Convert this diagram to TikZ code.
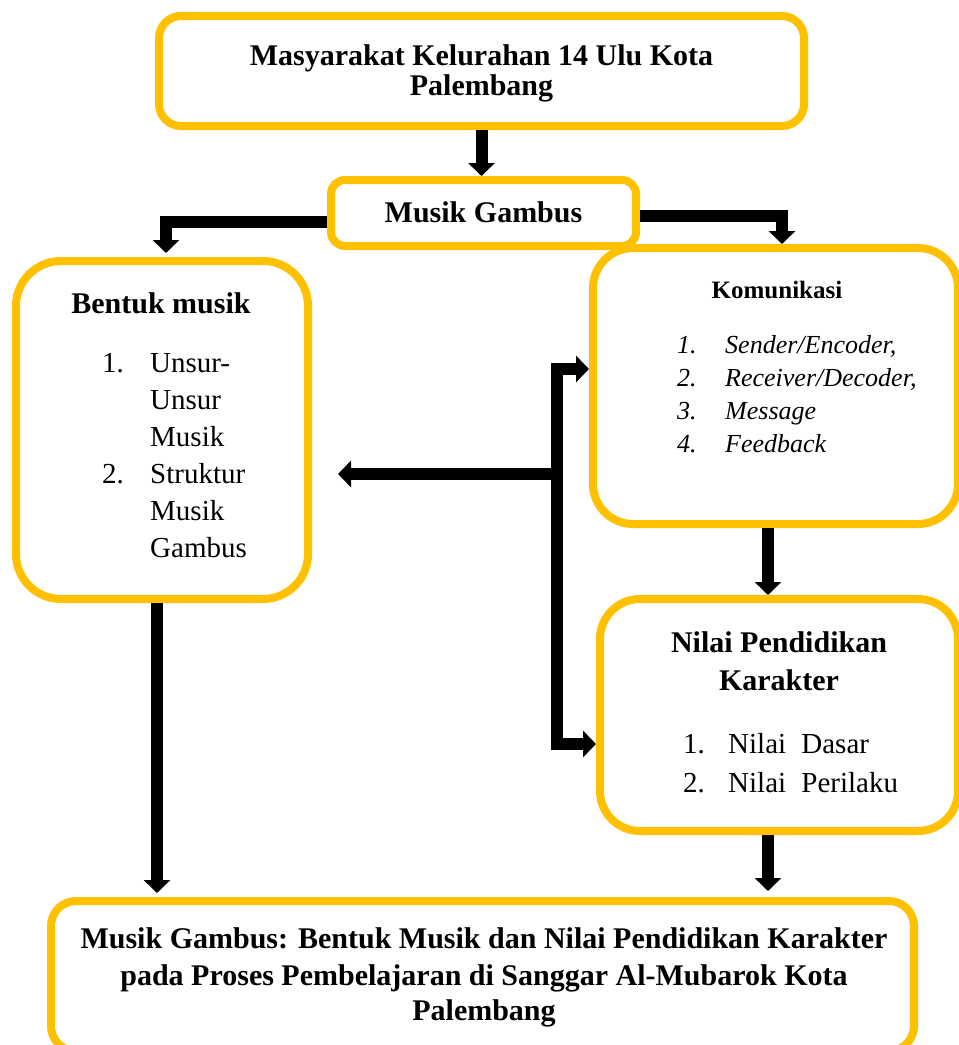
\documentclass[tikz,border=0pt]{standalone}
\usepackage{fontspec}
\setmainfont{Liberation Serif}
\usetikzlibrary{arrows.meta}
\definecolor{gold}{HTML}{FFC000}
\begin{document}
\begin{tikzpicture}[x=1pt,y=-1pt,
  >={Triangle[width=26pt,length=13pt]},
  box/.style={draw=gold, line width=8pt, rounded corners=#1, fill=white, inner sep=0pt},
  box/.default=25pt,
  conn/.style={draw=black, line width=12pt, line join=miter, ->},
  bt/.style={font=\fontsize{30}{33}\selectfont\bfseries, inner sep=0pt, anchor=base},
  kt/.style={font=\fontsize{25}{30}\selectfont\bfseries, inner sep=0pt, anchor=base},
  rt/.style={font=\fontsize{29}{34}\selectfont, inner sep=0pt, anchor=base west},
  it/.style={font=\fontsize{26}{30}\selectfont\itshape, inner sep=0pt, anchor=base west}
]
\useasboundingbox (0,0) rectangle (959,1045);

% boxes
\node[box=22pt, minimum width=645pt, minimum height=110pt] (top) at (481.5,71) {};
\node[box=14pt, minimum width=305pt, minimum height=66pt] (gambus) at (483.5,213) {};
\node[box=45pt, minimum width=292pt, minimum height=338pt] (bentuk) at (162,430) {};
\node[box=40pt, minimum width=365pt, minimum height=276pt] (kom) at (775.5,386) {};
\node[box=40pt, minimum width=358pt, minimum height=232pt] (nilai) at (779,715) {};
\node[box=25pt, minimum width=863pt, minimum height=150pt] (bottom) at (482.5,976) {};

% texts
\node[bt] (t1) at (481.5,65) {Masyarakat Kelurahan 14 Ulu Kota};
\node[bt] (t2) at (481.5,95) {Palembang};
\node[bt] (g1) at (483.5,222) {Musik Gambus};

\node[bt] (b0) at (161,313) {Bentuk musik};
\node[rt] (bn1) at (102,372) {1.};
\node[rt] (bn2) at (102,483) {2.};
\node[rt] (b1) at (150,372) {Unsur-};
\node[rt] (b2) at (150,409) {Unsur};
\node[rt] (b3) at (150,446) {Musik};
\node[rt] (b4) at (150,483) {Struktur};
\node[rt] (b5) at (150,520) {Musik};
\node[rt] (b6) at (150,557) {Gambus};

\node[kt] (k0) at (777,298) {Komunikasi};
\node[it] (kn1) at (677,353) {1.};
\node[it] (kn2) at (677,386) {2.};
\node[it] (kn3) at (677,419) {3.};
\node[it] (kn4) at (677,452) {4.};
\node[it] (k1) at (725,353) {Sender/Encoder,};
\node[it] (k2) at (725,386) {Receiver/Decoder,};
\node[it] (k3) at (725,419) {Message};
\node[it] (k4) at (725,452) {Feedback};

\node[bt] (n0) at (779,652) {Nilai Pendidikan};
\node[bt] (n00) at (779,690) {Karakter};
\node[rt] (nn1) at (683,753) {1.};
\node[rt] (nn2) at (683,792) {2.};
\node[rt] (n1) at (728,753) {Nilai\hspace{8pt} Dasar};
\node[rt] (n2) at (728,792) {Nilai\hspace{8pt} Perilaku};

\node[bt] (m1) at (484,948) {Musik Gambus: Bentuk Musik dan Nilai Pendidikan Karakter};
\node[bt] (m2) at (484,985) {pada Proses Pembelajaran di Sanggar Al-Mubarok Kota};
\node[bt] (m3) at (484,1020) {Palembang};

% connectors
\draw[conn] (top.south) -- (top.south |- gambus.north);
\draw[conn, shorten >=4pt] ([yshift=-9pt]gambus.west) -| ([xshift=4pt]bentuk.north);
\draw[conn] ([yshift=-3pt]gambus.east) -| ([xshift=6.5pt]kom.north);
\draw[conn] ([xshift=-7.5pt]kom.south) -- ([xshift=-7.5pt]kom.south |- nilai.north);
\draw[conn, shorten >=6pt] ([xshift=-11pt]nilai.south) -- ([xshift=-11pt]nilai.south |- bottom.north);
\draw[conn, shorten >=4pt] ([xshift=-5pt]bentuk.south) -- ([xshift=-5pt]bentuk.south |- bottom.north);

\coordinate (jt) at (557,369);
\coordinate (jb) at (557,744);
\coordinate (jm) at (563,474);
\draw[conn, <->] (jt -| kom.west) -- (jt) -- (jb) -- (jb -| nilai.west);
\draw[conn, shorten >=26pt] (jm) -- (jm -| bentuk.east);
\end{tikzpicture}
\end{document}
